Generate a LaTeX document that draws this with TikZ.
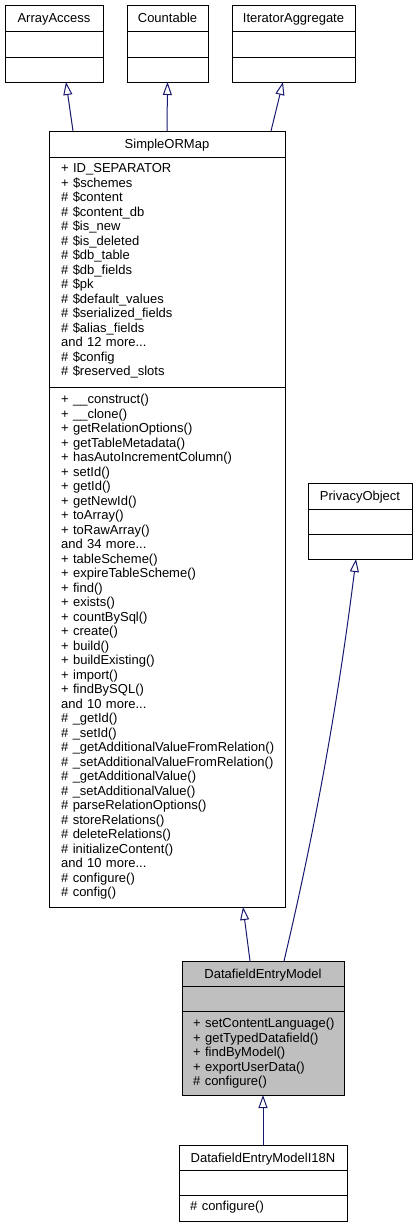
\documentclass[tikz,border=0pt]{standalone}
\usepackage{fontspec}
\setmainfont{Liberation Sans}
\usetikzlibrary{arrows.meta}
\definecolor{edgeblue}{HTML}{191970}
\definecolor{boxgray}{HTML}{BFBFBF}

\begin{document}
\begin{tikzpicture}[x=1pt,y=-1pt,
    classbox/.style={draw=black,fill=white,line width=1pt,inner sep=0pt,outer sep=0pt},
    classtitle/.style={inner sep=0pt,text height=9.3pt,text depth=0pt,font=\fontsize{13}{14.5}\selectfont},
    members/.style={anchor=base west,inner sep=0pt,text width=230pt,align=left,font=\fontsize{13}{14.5}\selectfont},
    inherit/.style={draw=edgeblue,line width=1pt,-{Triangle[open,length=13pt,width=9pt]}}]
    \useasboundingbox (0,0) rectangle (418,1227);

    \node[classbox,minimum width=98pt,minimum height=77pt] (aa) at (54,43.5) {};
    \draw[line width=1pt] ([yshift=-26pt]aa.north west) -- ([yshift=-26pt]aa.north east);
    \draw[line width=1pt] ([yshift=-52pt]aa.north west) -- ([yshift=-52pt]aa.north east);
    \node[classtitle] (aa-title) at ([yshift=-13pt]aa.north) {ArrayAccess};

    \node[classbox,minimum width=81pt,minimum height=77pt] (cnt) at (167.5,43.5) {};
    \draw[line width=1pt] ([yshift=-26pt]cnt.north west) -- ([yshift=-26pt]cnt.north east);
    \draw[line width=1pt] ([yshift=-52pt]cnt.north west) -- ([yshift=-52pt]cnt.north east);
    \node[classtitle] (cnt-title) at ([yshift=-13pt]cnt.north) {Countable};

    \node[classbox,minimum width=123pt,minimum height=77pt] (ia) at (293.5,43.5) {};
    \draw[line width=1pt] ([yshift=-26pt]ia.north west) -- ([yshift=-26pt]ia.north east);
    \draw[line width=1pt] ([yshift=-52pt]ia.north west) -- ([yshift=-52pt]ia.north east);
    \node[classtitle] (ia-title) at ([yshift=-13pt]ia.north) {IteratorAggregate};

    \node[classbox,minimum width=236pt,minimum height=776pt] (sorm) at (167,519) {};
    \draw[line width=1pt] ([yshift=-26pt]sorm.north west) -- ([yshift=-26pt]sorm.north east);
    \draw[line width=1pt] ([yshift=-256pt]sorm.north west) -- ([yshift=-256pt]sorm.north east);
    \node[classtitle] (sorm-title) at ([yshift=-13pt]sorm.north) {SimpleORMap};
    \node[members] (sorm-attrs) at ([xshift=12pt,yshift=-41.6pt]sorm.north west) {+ ID\_SEPARATOR\\
        + \$schemes\\
        \# \$content\\
        \# \$content\_db\\
        \# \$is\_new\\
        \# \$is\_deleted\\
        \# \$db\_table\\
        \# \$db\_fields\\
        \# \$pk\\
        \# \$default\_values\\
        \# \$serialized\_fields\\
        \# \$alias\_fields\\
        and 12 more...\\
        \# \$config\\
        \# \$reserved\_slots};
    \node[members] (sorm-ops) at ([xshift=12pt,yshift=-272.6pt]sorm.north west) {+ \_\_construct()\\
        + \_\_clone()\\
        + getRelationOptions()\\
        + getTableMetadata()\\
        + hasAutoIncrementColumn()\\
        + setId()\\
        + getId()\\
        + getNewId()\\
        + toArray()\\
        + toRawArray()\\
        and 34 more...\\
        + tableScheme()\\
        + expireTableScheme()\\
        + find()\\
        + exists()\\
        + countBySql()\\
        + create()\\
        + build()\\
        + buildExisting()\\
        + import()\\
        + findBySQL()\\
        and 10 more...\\
        \# \_getId()\\
        \# \_setId()\\
        \# \_getAdditionalValueFromRelation()\\
        \# \_setAdditionalValueFromRelation()\\
        \# \_getAdditionalValue()\\
        \# \_setAdditionalValue()\\
        \# parseRelationOptions()\\
        \# storeRelations()\\
        \# deleteRelations()\\
        \# initializeContent()\\
        and 10 more...\\
        \# configure()\\
        \# config()};

    \node[classbox,minimum width=104pt,minimum height=76pt] (po) at (360,521) {};
    \draw[line width=1pt] ([yshift=-26pt]po.north west) -- ([yshift=-26pt]po.north east);
    \draw[line width=1pt] ([yshift=-51pt]po.north west) -- ([yshift=-51pt]po.north east);
    \node[classtitle] (po-title) at ([yshift=-13pt]po.north) {PrivacyObject};

    \node[classbox,fill=boxgray,minimum width=162pt,minimum height=134pt] (dem) at (263,1028) {};
    \draw[line width=1pt] ([yshift=-25pt]dem.north west) -- ([yshift=-25pt]dem.north east);
    \draw[line width=1pt] ([yshift=-50pt]dem.north west) -- ([yshift=-50pt]dem.north east);
    \node[classtitle] (dem-title) at ([yshift=-12.5pt]dem.north) {DatafieldEntryModel};
    \node[members] (dem-ops) at ([xshift=11pt,yshift=-66.6pt]dem.north west) {+ setContentLanguage()\\
        + getTypedDatafield()\\
        + findByModel()\\
        + exportUserData()\\
        \# configure()};

    \node[classbox,minimum width=168pt,minimum height=76pt] (i18n) at (263,1183) {};
    \draw[line width=1pt] ([yshift=-25pt]i18n.north west) -- ([yshift=-25pt]i18n.north east);
    \draw[line width=1pt] ([yshift=-50pt]i18n.north west) -- ([yshift=-50pt]i18n.north east);
    \node[classtitle] (i18n-title) at ([yshift=-12.5pt]i18n.north) {DatafieldEntryModelI18N};
    \node[members] (i18n-ops) at ([xshift=11pt,yshift=-65.6pt]i18n.north west) {\# configure()};

    \draw[inherit] ([xshift=-94pt]sorm.north) -- ([xshift=12pt]aa.south);
    \draw[inherit] (sorm.north) -- (cnt.south);
    \draw[inherit] ([xshift=104pt]sorm.north) -- ([xshift=-10.5pt]ia.south);
    \draw[inherit] ([xshift=-13pt]dem.north) -- ([xshift=76pt]sorm.south);
    \draw[inherit] ([xshift=21pt]dem.north) .. controls (315,830) and (338,703) .. ([xshift=-4pt]po.south);
    \draw[inherit] (i18n.north) -- (dem.south);
\end{tikzpicture}
\end{document}
